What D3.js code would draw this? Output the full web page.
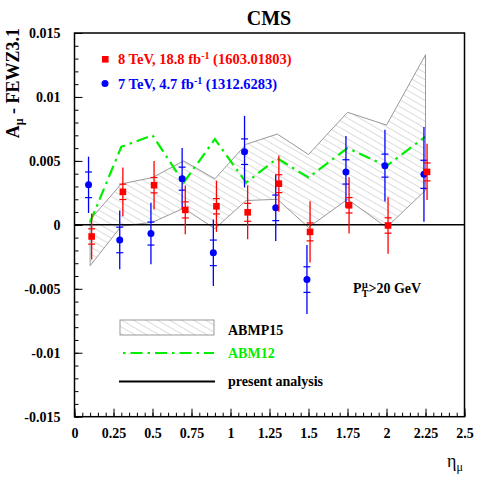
<!DOCTYPE html>
<html lang="en">
	<head>
		<meta charset="utf-8">
		<title>CMS muon asymmetry</title>
		<script src="https://d3js.org/d3.v7.min.js"></script>
		<style type="text/css">
		body { margin:0; background:white; }
		svg { font-family: "Liberation Serif", "Times New Roman", serif; font-weight: bold; }
		.axis path { display: none; }
		.axis line { stroke: black; stroke-width: 1; }
		.axis text { font-size: 14px; font-family: "Liberation Serif", serif; font-weight: bold; fill: black; }
		</style>
	</head>
	<body>
		<div id="chart"></div>
		<script type="text/javascript">

		// bin centres in eta
		var etaBins = [0.1, 0.3, 0.5, 0.7, 0.9, 1.1, 1.3, 1.5, 1.75, 2.0, 2.25];

		// 8 TeV, 18.8 fb-1 (red squares)
		var val8 = [-0.00091, 0.00258, 0.0031, 0.00117, 0.00145, 0.00098, 0.00322, -0.00055, 0.00153, -0.00005, 0.00414];
		var tot8 = [0.0018, 0.0019, 0.0019, 0.0019, 0.0020, 0.0021, 0.0022, 0.0024, 0.0022, 0.0022, 0.0022];
		var stat8 = [0.0006, 0.0006, 0.0006, 0.00063, 0.0006, 0.0007, 0.0007, 0.0007, 0.0006, 0.0006, 0.0007];

		// 7 TeV, 4.7 fb-1 (blue circles)
		var val7 = [0.00313, -0.00118, -0.00068, 0.00361, -0.00219, 0.00572, 0.00133, -0.00428, 0.00414, 0.00463, 0.00395];
		var tot7 = [0.0022, 0.0023, 0.0024, 0.0024, 0.0026, 0.0028, 0.0026, 0.0027, 0.0028, 0.0028, 0.0037];
		var stat7 = [0.001, 0.001, 0.0009, 0.0009, 0.001, 0.001, 0.001, 0.001, 0.00095, 0.0009, 0.0011];

		// ABMP15 band
		var abmp15Up = [0.0004, 0.0032, 0.0037, 0.0050, 0.0036, 0.0063, 0.0071, 0.0055, 0.0088, 0.0078, 0.0133];
		var abmp15Lo = [-0.0032, -0.0001, 0.0002, 0.0013, -0.0003, 0.0019, 0.0020, -0.0002, 0.0020, -0.0002, 0.0027];

		// ABM12
		var abm12 = [0.0002, 0.0061, 0.0070, 0.0033, 0.0067, 0.0033, 0.0052, 0.0037, 0.0060, 0.0046, 0.0069];

		var xTicks = [0, 0.25, 0.5, 0.75, 1, 1.25, 1.5, 1.75, 2, 2.25, 2.5];
		var yTicks = [-0.015, -0.01, -0.005, 0, 0.005, 0.01, 0.015];

		var w = 477, h = 477;
		var padL = 74.5, padR = 464.5, padT = 33, padB = 416.7;
		var off = 0.01; // small shift of the two data sets

		var x = d3.scaleLinear().domain([0, 2.5]).range([padL, padR]);
		var y = d3.scaleLinear().domain([-0.015, 0.015]).range([padB, padT]);

		var svg = d3.select("#chart").append("svg")
			.attr("width", w)
			.attr("height", h);

		// hatch pattern
		var defs = svg.append("defs");
		defs.append("pattern")
			.attr("id", "hatch")
			.attr("patternUnits", "userSpaceOnUse")
			.attr("width", 6).attr("height", 6)
			.attr("patternTransform", "rotate(30)")
			.append("line")
			.attr("x1", 0).attr("y1", 0).attr("x2", 6).attr("y2", 0)
			.attr("stroke", "#a8a8a8").attr("stroke-width", 0.8);

		// ABMP15 band
		var band = d3.area()
			.x(function(d, i) { return x(etaBins[i]); })
			.y0(function(d, i) { return y(abmp15Lo[i]); })
			.y1(function(d) { return y(d); });
		svg.append("path")
			.datum(abmp15Up)
			.attr("d", band)
			.attr("fill", "url(#hatch)")
			.attr("stroke", "#999")
			.attr("stroke-width", 1);

		// ABM12 line
		var line = d3.line()
			.x(function(d, i) { return x(etaBins[i]); })
			.y(function(d) { return y(d); });
		svg.append("path")
			.datum(abm12)
			.attr("d", line)
			.attr("fill", "none")
			.attr("stroke", "#00ee00")
			.attr("stroke-width", 2.2)
			.attr("stroke-dasharray", "12,5,2.5,5");

		// zero line
		svg.append("line")
			.attr("x1", x(0)).attr("x2", x(2.5))
			.attr("y1", y(0)).attr("y2", y(0))
			.attr("stroke", "black").attr("stroke-width", 1.5);

		// data with error bars
		function drawSet(vals, tot, stat, shift, color, isSquare) {
			var g = svg.append("g");
			var pts = g.selectAll("g.pt")
				.data(vals)
				.enter()
				.append("g").attr("class", "pt");
			pts.append("line")
				.attr("x1", function(d, i) { return x(etaBins[i] + shift); })
				.attr("x2", function(d, i) { return x(etaBins[i] + shift); })
				.attr("y1", function(d, i) { return y(d - tot[i]); })
				.attr("y2", function(d, i) { return y(d + tot[i]); })
				.attr("stroke", color).attr("stroke-width", 1.3);
			[-1, 1].forEach(function(s) {
				pts.append("line")
					.attr("x1", function(d, i) { return x(etaBins[i] + shift) - 3.5; })
					.attr("x2", function(d, i) { return x(etaBins[i] + shift) + 3.5; })
					.attr("y1", function(d, i) { return y(d + s * stat[i]); })
					.attr("y2", function(d, i) { return y(d + s * stat[i]); })
					.attr("stroke", color).attr("stroke-width", 1.2);
			});
			if (isSquare) {
				pts.append("rect")
					.attr("x", function(d, i) { return x(etaBins[i] + shift) - 3.3; })
					.attr("y", function(d) { return y(d) - 3.3; })
					.attr("width", 6.6).attr("height", 6.6)
					.attr("fill", color);
			} else {
				pts.append("circle")
					.attr("cx", function(d, i) { return x(etaBins[i] + shift); })
					.attr("cy", function(d) { return y(d); })
					.attr("r", 3.5)
					.attr("fill", color);
			}
		}
		drawSet(val7, tot7, stat7, -off, "#0000ff", false);
		drawSet(val8, tot8, stat8, off, "#ff0000", true);

		// axes, ROOT style ticks inside
		var xAxis = d3.axisBottom(x).tickValues(xTicks).tickSize(-8).tickPadding(11)
			.tickFormat(function(d) { return String(d); });
		var xMinor = d3.axisBottom(x).tickValues(d3.range(0, 51).map(function(i) { return i * 0.05; }))
			.tickSize(-4).tickFormat("");
		var yAxis = d3.axisLeft(y).tickValues(yTicks).tickSize(-8).tickPadding(14)
			.tickFormat(function(d) { return String(d); });
		var yMinor = d3.axisLeft(y).tickValues(d3.range(0, 31).map(function(i) { return -0.015 + i * 0.001; }))
			.tickSize(-4).tickFormat("");

		svg.append("g").attr("class", "axis").attr("transform", "translate(0," + padB + ")").call(xMinor);
		svg.append("g").attr("class", "axis").attr("transform", "translate(0," + padB + ")").call(xAxis);
		svg.append("g").attr("class", "axis").attr("transform", "translate(" + padL + ",0)").call(yMinor);
		svg.append("g").attr("class", "axis").attr("transform", "translate(" + padL + ",0)").call(yAxis);

		// frame
		svg.append("rect")
			.attr("x", padL).attr("y", padT)
			.attr("width", padR - padL).attr("height", padB - padT)
			.attr("fill", "none").attr("stroke", "black").attr("stroke-width", 1.5);

		// title and axis titles
		svg.append("text").attr("x", 269).attr("y", 25)
			.attr("text-anchor", "middle").style("font-size", "20px").text("CMS");

		var yt = svg.append("text")
			.attr("transform", "translate(19,28) rotate(-90)")
			.attr("text-anchor", "end")
			.style("font-size", "18px");
		yt.append("tspan").text("A");
		yt.append("tspan").attr("dy", 4).style("font-size", "12px").text("\u03bc");
		yt.append("tspan").attr("dy", -4).text(" - FEWZ3.1");

		var xt = svg.append("text")
			.attr("x", 447).attr("y", 467)
			.style("font-size", "18px").style("font-weight", "normal");
		xt.append("tspan").text("\u03b7");
		xt.append("tspan").attr("dy", 4).style("font-size", "12px").text("\u03bc");

		// data legend
		svg.append("rect").attr("x", 102).attr("y", 56).attr("width", 6.6).attr("height", 6.6).attr("fill", "#ff0000");
		var l1 = svg.append("text").attr("x", 118).attr("y", 64).attr("fill", "#ff0000").style("font-size", "14.5px");
		l1.append("tspan").text("8 TeV, 18.8 fb");
		l1.append("tspan").attr("dy", -5).style("font-size", "10px").text("-1");
		l1.append("tspan").attr("dy", 5).text(" (1603.01803)");

		svg.append("circle").attr("cx", 105).attr("cy", 83.5).attr("r", 3.5).attr("fill", "#0000ff");
		var l2 = svg.append("text").attr("x", 118).attr("y", 88.5).attr("fill", "#0000ff").style("font-size", "14.5px");
		l2.append("tspan").text("7 TeV, 4.7 fb");
		l2.append("tspan").attr("dy", -5).style("font-size", "10px").text("-1");
		l2.append("tspan").attr("dy", 5).text(" (1312.6283)");

		// cut label
		var cut = svg.append("text").attr("x", 353).attr("y", 293).style("font-size", "14px");
		cut.append("tspan").text("P");
		cut.append("tspan").attr("dx", 0.5).attr("dy", -5).style("font-size", "10px").text("\u03bc");
		cut.append("tspan").attr("dx", -6).attr("dy", 9).style("font-size", "10px").text("T");
		cut.append("tspan").attr("dy", -4).text(">20 GeV");

		// model legend
		svg.append("rect").attr("x", 120).attr("y", 320).attr("width", 94).attr("height", 15)
			.attr("fill", "url(#hatch)").attr("stroke", "#999").attr("stroke-width", 1);
		svg.append("text").attr("x", 228).attr("y", 335).style("font-size", "14px").text("ABMP15");

		svg.append("line").attr("x1", 123).attr("x2", 214).attr("y1", 353).attr("y2", 353)
			.attr("stroke", "#00ee00").attr("stroke-width", 2.2).attr("stroke-dasharray", "2.5,5,12,5");
		svg.append("text").attr("x", 228).attr("y", 358).attr("fill", "#00ee00").style("font-size", "14px").text("ABM12");

		svg.append("line").attr("x1", 119).attr("x2", 215).attr("y1", 381.5).attr("y2", 381.5)
			.attr("stroke", "black").attr("stroke-width", 2);
		svg.append("text").attr("x", 228).attr("y", 386).style("font-size", "14px").text("present analysis");

		</script>
	</body>
</html>
